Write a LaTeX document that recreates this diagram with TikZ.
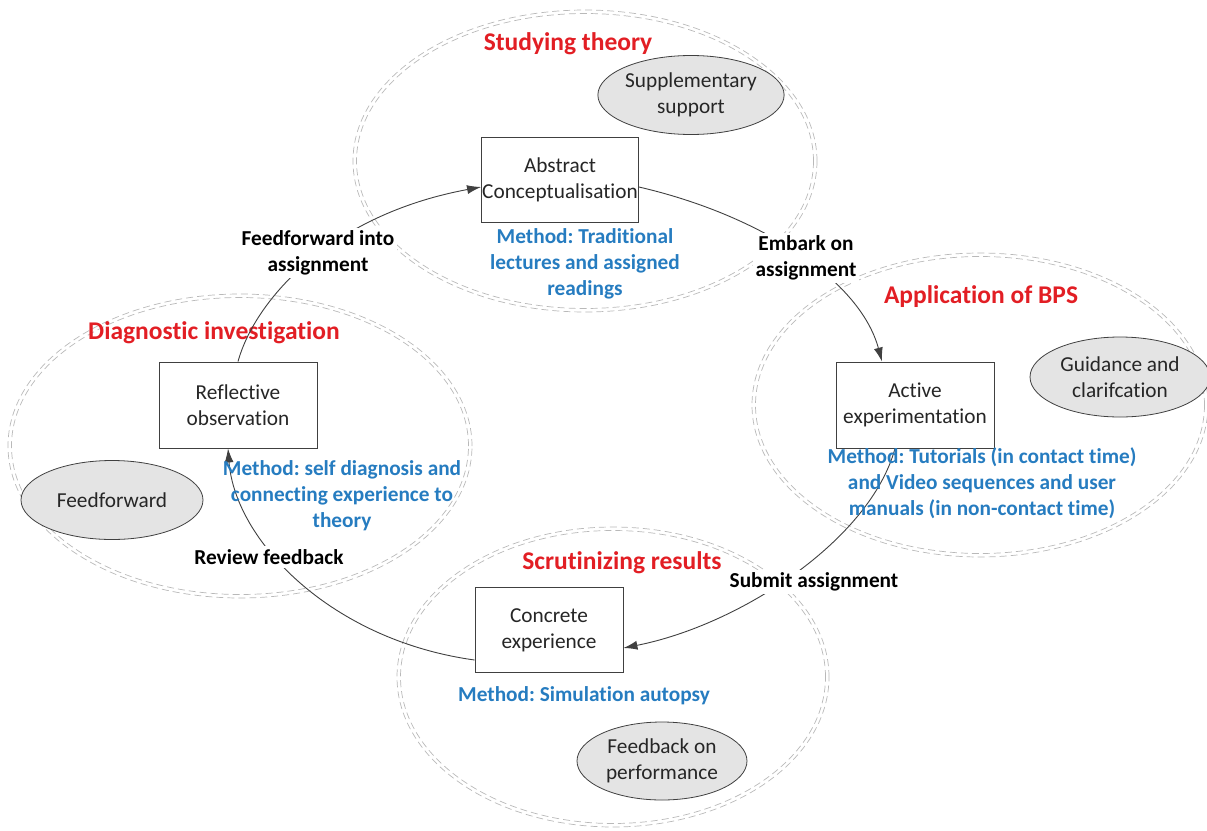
\documentclass[tikz,border=0pt]{standalone}
\usepackage{fontspec}
\setmainfont{Carlito}[Ligatures={NoCommon}]
\frenchspacing
\usetikzlibrary{arrows.meta,shapes.geometric}
\definecolor{hred}{RGB}{226,30,36}
\definecolor{mblue}{RGB}{38,124,192}
\definecolor{dgray}{RGB}{64,64,64}
\definecolor{zgray}{RGB}{185,185,185}
\definecolor{sfill}{RGB}{228,228,228}
\begin{document}
\begin{tikzpicture}[x=1pt,y=-1pt,
  zone/.style={draw=zgray, dash pattern=on 7pt off 4pt, line width=0.7pt},
  txt/.style={font=\fontsize{21.3}{26}\selectfont, align=center, text=black!85},
  stagebox/.style={txt, draw=dgray, fill=white, line width=0.9pt, inner sep=0pt},
  supp/.style={txt, ellipse, draw=dgray, fill=sfill, line width=0.8pt, inner sep=0pt},
  head/.style={font=\fontsize{25.5}{30}\selectfont\bfseries, text=hred},
  method/.style={font=\fontsize{21.3}{26}\selectfont\bfseries, text=mblue, align=center},
  lbl/.style={font=\fontsize{21.3}{26}\selectfont\bfseries, text=black, align=center, fill=white, inner sep=3pt},
  conn/.style={draw=dgray, line width=0.9pt, -{Latex[length=14pt,width=9pt]}}
]
\useasboundingbox (0,0) rectangle (1207,830);
% zones (double dashed ellipses)
\draw[zone] (585,161) ellipse [x radius=232pt, y radius=151pt];
\draw[zone] (585,161) ellipse [x radius=228.5pt, y radius=147.5pt];
\draw[zone] (240,446) ellipse [x radius=232pt, y radius=152pt];
\draw[zone] (240,446) ellipse [x radius=228.5pt, y radius=148.5pt];
\draw[zone] (980,405) ellipse [x radius=228pt, y radius=152pt];
\draw[zone] (980,405) ellipse [x radius=224.5pt, y radius=148.5pt];
\draw[zone] (613,677) ellipse [x radius=216pt, y radius=150pt];
\draw[zone] (613,677) ellipse [x radius=212.5pt, y radius=146.5pt];

% headings
\node[head] (h1) at (568,44) {Studying theory};
\node[head] (h2) at (214,333) {Diagnostic investigation};
\node[head] (h3) at (981,297) {Application of BPS};
\node[head] (h4) at (622,563) {Scrutinizing results};

% stage boxes
\node[stagebox, minimum width=157pt, minimum height=85pt] (abs) at (560,180) {Abstract\\Conceptualisation};
\node[stagebox, minimum width=158pt, minimum height=86pt] (refl) at (238,405) {Reflective\\observation};
\node[stagebox, minimum width=158pt, minimum height=86pt] (act) at (915,405) {Active\\experimentation};
\node[stagebox, minimum width=148pt, minimum height=85pt] (conc) at (549,630) {Concrete\\experience};

% support ellipses
\node[supp, minimum width=184pt, minimum height=79pt] (sup) at (691,95) {Supplementary\\support};
\node[supp, minimum width=182pt, minimum height=79pt] (ff) at (112,500) {Feedforward};
\node[supp, minimum width=180pt, minimum height=80pt] (gui) at (1120,377) {Guidance and\\clarifcation};
\node[supp, minimum width=170pt, minimum height=78pt] (fb) at (662,761) {Feedback on\\performance};

% connectors
\draw[conn] (refl.north) .. controls (255,300) and (330,215) .. ([yshift=-7pt]abs.west);
\draw[conn] ([yshift=-7pt]abs.east) .. controls (760,215) and (860,280) .. ([xshift=-33pt]act.north);
\draw[conn] ([xshift=-20pt]act.south) .. controls (870,540) and (740,625) .. ([yshift=-18pt]conc.east);
\draw[conn] ([yshift=-30pt]conc.west) .. controls (330,640) and (235,540) .. ([xshift=-10pt]refl.south);

% connector labels
\node[lbl] (l1) at (318,253) {Feedforward into\\assignment};
\node[lbl] (l2) at (806,258) {Embark on\\assignment};
\node[lbl] (l3) at (269,557) {Review feedback};
\node[lbl] (l4) at (814,582) {Submit assignment};

% methods
\node[method] (m1) at (585,264) {Method: Traditional\\lectures and assigned\\readings};
\node[method] (m2) at (342,496) {Method: self diagnosis and\\connecting experience to\\theory};
\node[method] (m3) at (982,483) {Method: Tutorials (in contact time)\\and Video sequences and user\\manuals (in non-contact time)};
\node[method] (m4) at (584,696) {Method: Simulation autopsy};
\end{tikzpicture}
\end{document}
